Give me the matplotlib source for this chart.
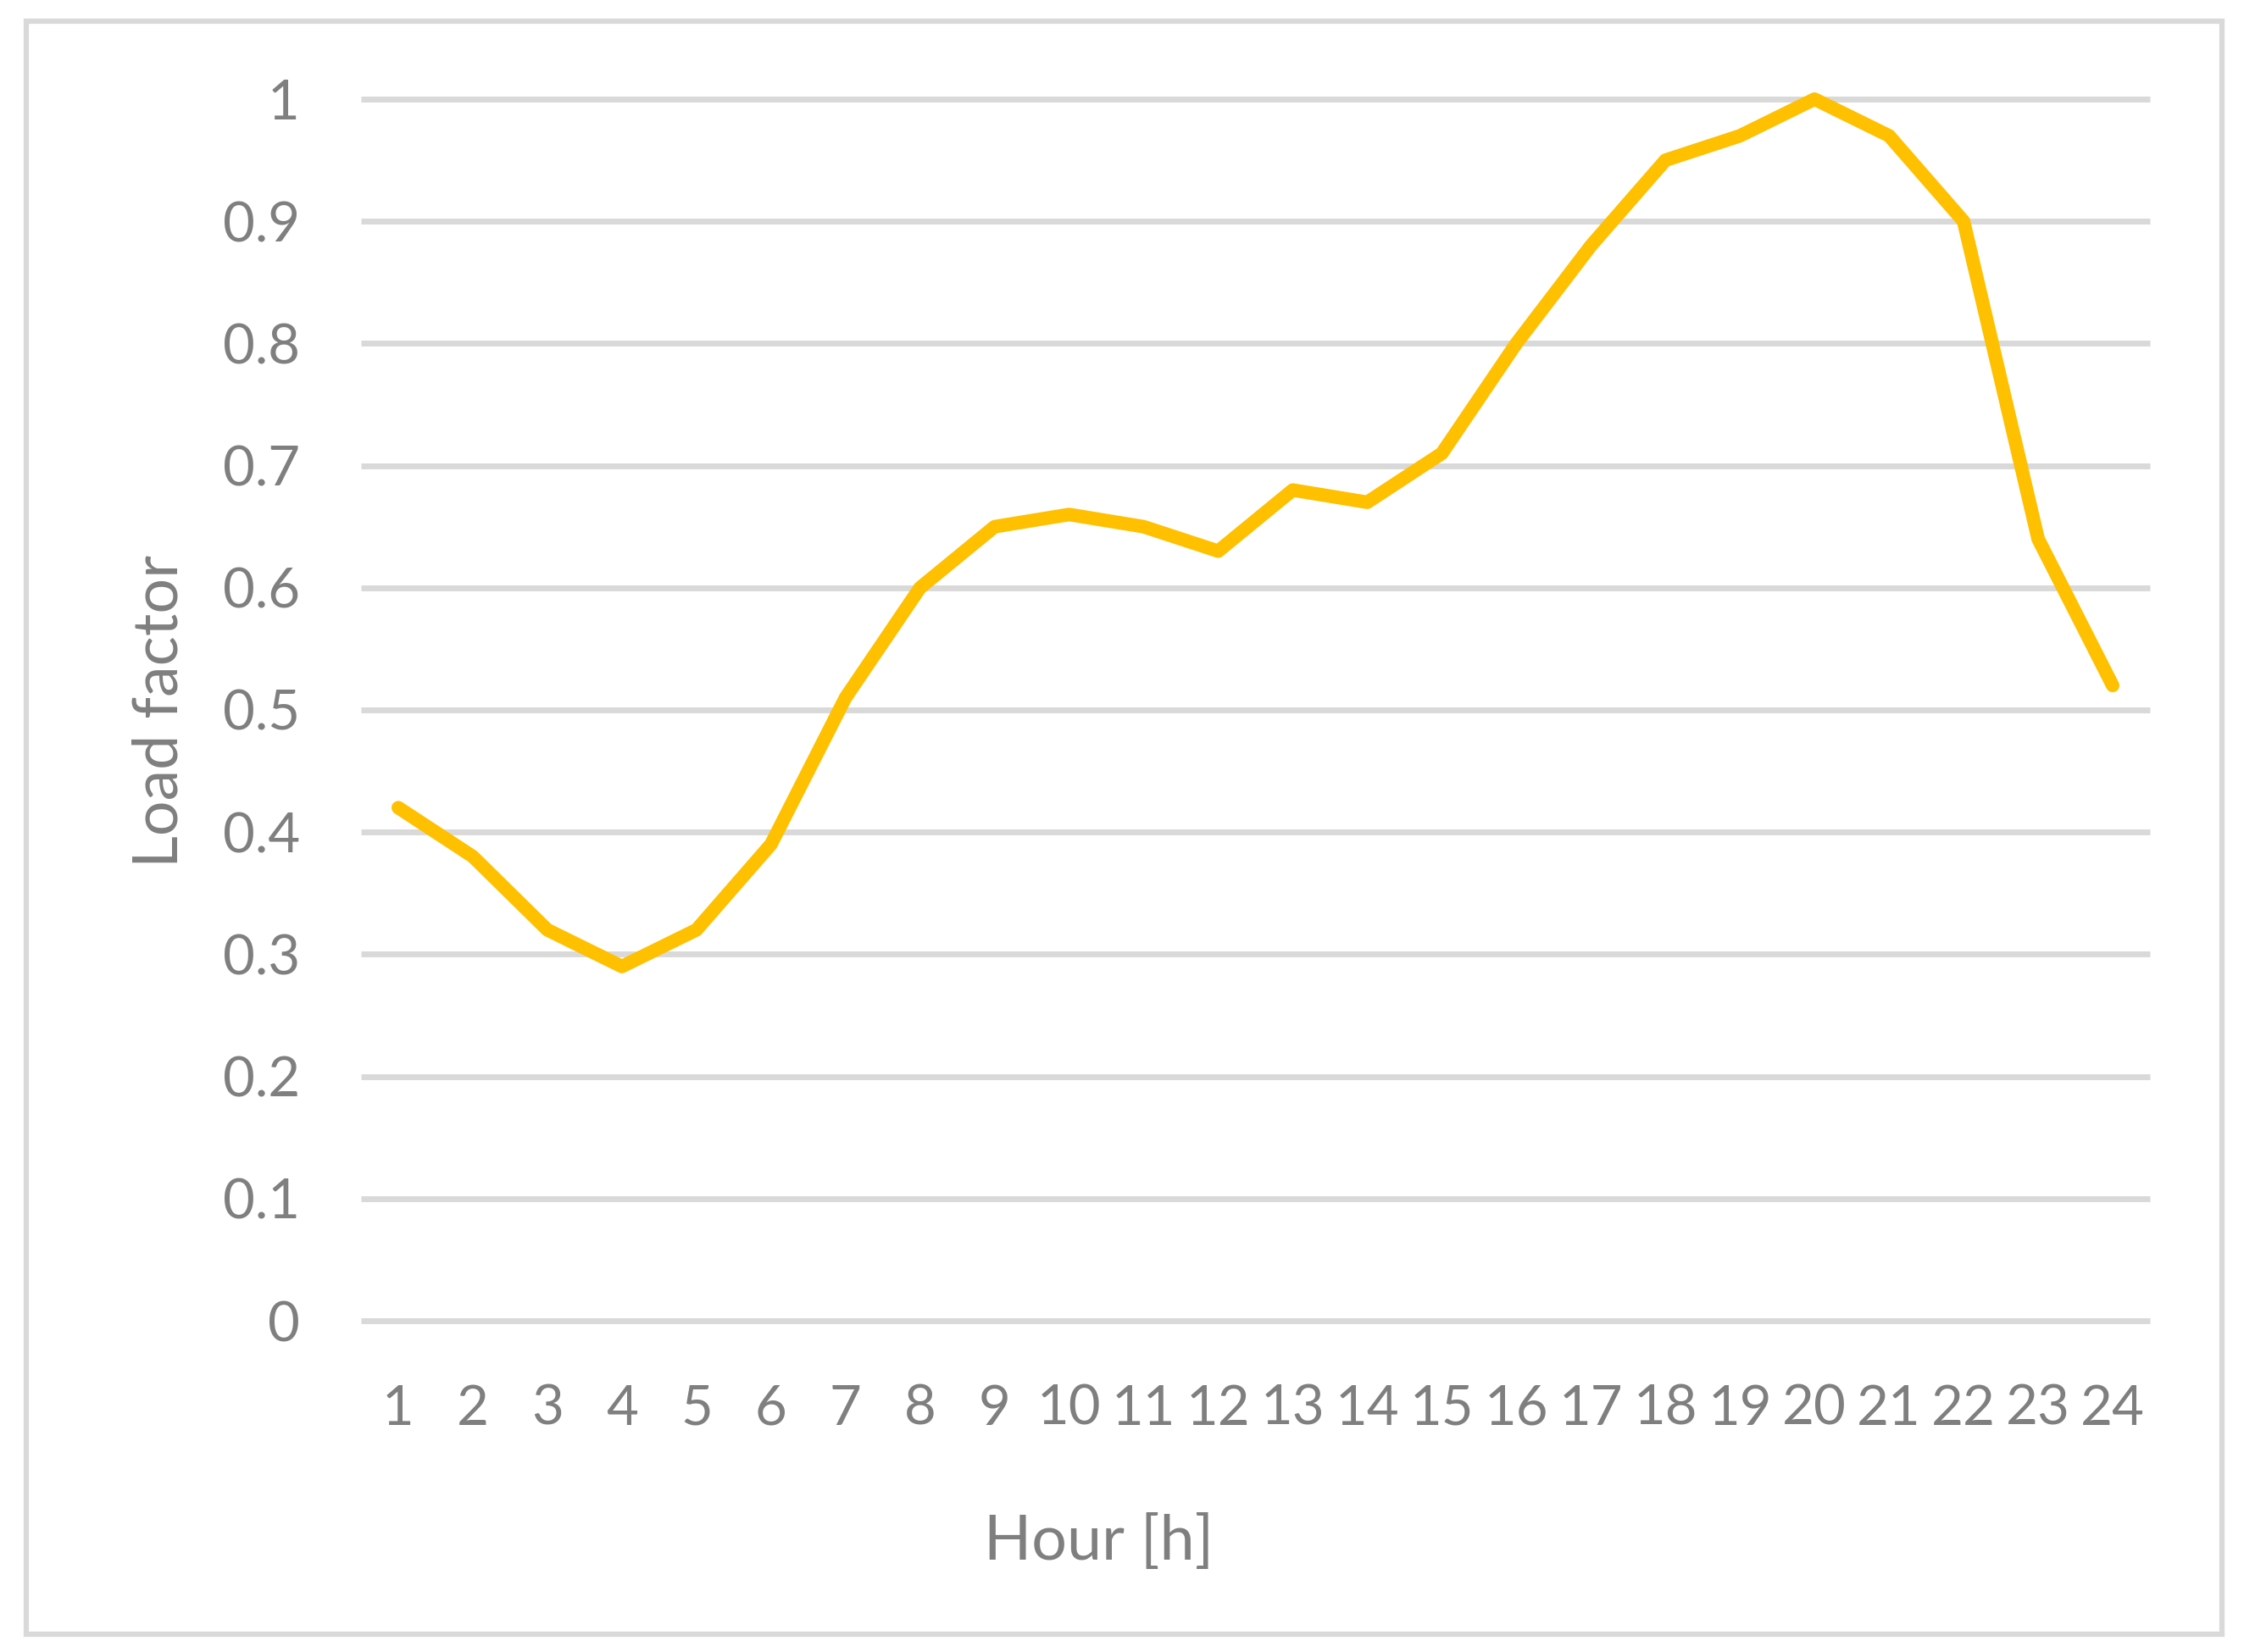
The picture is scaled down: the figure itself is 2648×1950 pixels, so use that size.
import matplotlib.pyplot as plt
from matplotlib.patches import Rectangle

# hourly load factor profile
hours = list(range(1, 25))
load_factor = [0.42, 0.38, 0.32, 0.29, 0.32, 0.39, 0.51, 0.60, 0.65, 0.66, 0.65, 0.63,
               0.68, 0.67, 0.71, 0.80, 0.88, 0.95, 0.97, 1.00, 0.97, 0.90, 0.64, 0.52]
y_ticks = [0, 0.1, 0.2, 0.3, 0.4, 0.5, 0.6, 0.7, 0.8, 0.9, 1]
y_tick_labels = ["0", "0.1", "0.2", "0.3", "0.4", "0.5", "0.6", "0.7", "0.8", "0.9", "1"]

W, H = 2648, 1950
text_col = "#7F7F7F"
grid_col = "#D9D9D9"
plt.rcParams['font.family'] = ['Lato', 'DejaVu Sans']

fig = plt.figure(figsize=(W / 100, H / 100), dpi=100)

# outer chart frame
fig.patches.append(Rectangle((31 / W, 1 - 1929 / H), (2622 - 31) / W, (1929 - 25) / H,
                             transform=fig.transFigure, fill=False,
                             edgecolor=grid_col, linewidth=4.5))

ax = fig.add_axes([426 / W, 1 - 1559 / H, (2537 - 426) / W, (1559 - 117) / H])
ax.plot(hours, load_factor, color="#FFC000", linewidth=11.5,
        solid_capstyle='round', solid_joinstyle='round', clip_on=False, zorder=3)

ax.set_xlim(0.5, 24.5)
ax.set_ylim(0, 1)
ax.set_xticks(hours)
ax.set_xticklabels([str(h) for h in hours])
ax.set_yticks(y_ticks)
ax.set_yticklabels(y_tick_labels)
ax.tick_params(axis='both', length=0, labelsize=47, colors=text_col)
ax.tick_params(axis='x', pad=54)
ax.tick_params(axis='y', pad=52)
ax.grid(axis='y', color=grid_col, linewidth=5)
for gl in ax.get_ygridlines():
    gl.set_clip_on(False)
    gl.set_solid_capstyle('butt')
ax.set_axisbelow(True)
for s in ax.spines.values():
    s.set_visible(False)

fig.text(1297 / W, 1 - 1820 / H, "Hour [h]", ha='center', va='center',
         fontsize=53, color=text_col)
fig.text(189 / W, 1 - 840 / H, "Load factor", ha='center', va='center',
         rotation=90, fontsize=53, color=text_col)

fig.savefig("out.png", dpi=100, facecolor="white")
